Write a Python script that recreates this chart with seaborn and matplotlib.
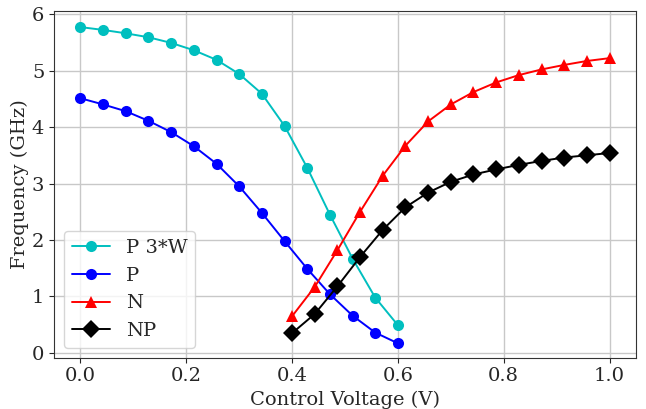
import numpy as np
import pandas as pd
import matplotlib
matplotlib.use("Agg")
import matplotlib.pyplot as plt
import seaborn as sns

# Control voltage sweeps (V)
v_p = np.linspace(0.0, 0.6, 15)
v_n = np.linspace(0.4, 1.0, 15)

# Oscillation frequencies (GHz)
f_p3w = [5.77, 5.72, 5.66, 5.59, 5.49, 5.36, 5.19, 4.94, 4.59, 4.02, 3.28, 2.45, 1.67, 0.98, 0.49]
f_p = [4.51, 4.40, 4.28, 4.11, 3.91, 3.66, 3.35, 2.95, 2.48, 1.98, 1.49, 1.04, 0.66, 0.36, 0.17]
f_n = [0.65, 1.17, 1.82, 2.50, 3.14, 3.67, 4.10, 4.40, 4.62, 4.79, 4.92, 5.02, 5.10, 5.17, 5.22]
f_np = [0.35, 0.69, 1.18, 1.70, 2.18, 2.58, 2.84, 3.03, 3.16, 3.25, 3.33, 3.40, 3.46, 3.50, 3.54]

series = ["P 3*W", "P", "N", "NP"]
volts = [v_p, v_p, v_n, v_n]
freqs = [f_p3w, f_p, f_n, f_np]
colors = ["#00BFBF", "blue", "red", "black"]
marks = ["o", "o", "^", "D"]
msizes = [8, 8, 8.5, 9.5]

sns.set_style("ticks")
plt.rcParams["font.family"] = ["DejaVu Serif"]
plt.rcParams["font.size"] = 14

fig = plt.figure(figsize=(6.46, 4.09), dpi=100)
ax = fig.add_axes([0.0836, 0.1254, 0.9009, 0.8477])

for name, v, f, c, m, ms in zip(series, volts, freqs, colors, marks, msizes):
    df = pd.DataFrame({"v": v, "f": f})
    sns.lineplot(data=df, x="v", y="f", color=c, marker=m, markersize=ms,
                 markeredgewidth=0, linewidth=1.4, label=name, ax=ax)

ax.set_xlim(-0.05, 1.05)
ax.set_ylim(-0.085, 6.055)
ax.set_xticks([0.0, 0.2, 0.4, 0.6, 0.8, 1.0])
ax.set_yticks([0, 1, 2, 3, 4, 5, 6])
ax.tick_params(labelsize=14)
ax.grid(True, color="#c8c8c8", linewidth=1)
ax.set_axisbelow(True)
for sp in ax.spines.values():
    sp.set_visible(True)
    sp.set_color("#333333")
ax.set_xlabel("Control Voltage (V)", fontsize=14)
ax.set_ylabel("Frequency (GHz)", fontsize=14, labelpad=2)

ax.legend(loc="lower left", fontsize=14, frameon=True, framealpha=0.8,
          handlelength=2.0)

fig.savefig("out.png", dpi=100)
